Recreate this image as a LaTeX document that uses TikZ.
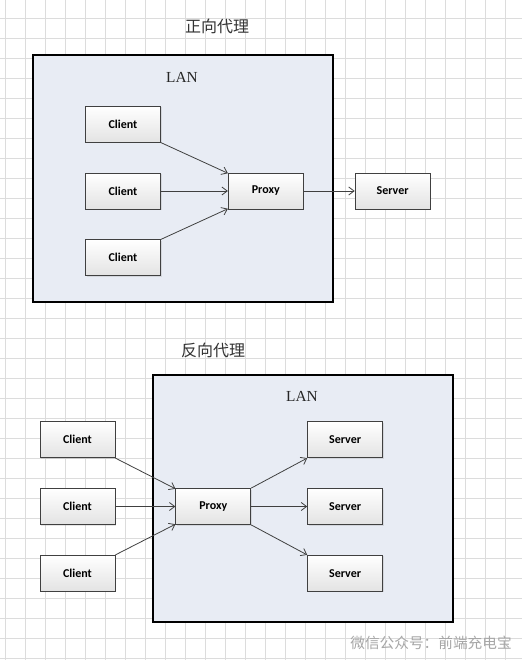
\documentclass[tikz,border=0pt]{standalone}
\usepackage{fontspec}
\setmainfont{Liberation Serif}
\newfontfamily\boxfont{Carlito}
\newfontfamily\cjkfont{Noto Sans CJK SC}
\usetikzlibrary{arrows.meta, positioning, shadows}

\definecolor{lanfill}{HTML}{E8ECF4}
\definecolor{gridgray}{HTML}{DCDCDC}
\definecolor{edgegray}{HTML}{404040}

\begin{document}
\begin{tikzpicture}[
  x=0.75pt, y=-0.75pt,
  node distance=22.5pt and 50pt,
  gridline/.style={draw=gridgray, line width=0.55pt},
  lanbox/.style={draw=black, fill=lanfill, line width=0.95pt},
  pcbox/.style={rectangle, draw=edgegray, line width=0.6pt,
                top color=white, bottom color=black!11,
                minimum width=56.25pt, minimum height=27pt, inner sep=0pt,
                font=\boxfont\bfseries\fontsize{9}{10}\selectfont,
                drop shadow={shadow xshift=0.8pt, shadow yshift=-0.8pt, opacity=0.2}},
  title/.style={font=\cjkfont\fontsize{12}{14}\selectfont, text=black!80},
  lanlabel/.style={font=\fontsize{11.5}{13}\selectfont, text=black!85},
  arrow/.style={-{Straight Barb[length=4pt, width=6pt]}, draw=edgegray, line width=0.6pt}
]
\useasboundingbox[fill=white] (0,0) rectangle (522,660);
\foreach \gx in {5,25,...,505} \draw[gridline] (\gx,0) -- (\gx,660);
\foreach \gy in {18,38,...,658} \draw[gridline] (0,\gy) -- (522,\gy);

% forward proxy
\node[title] (ftitle) at (217,26) {正向代理};
\draw[lanbox] (33,55) rectangle (333,302);
\node[lanlabel] (flan) at (182,77) {LAN};
\node[pcbox] (fcli2) at (123,191) {Client};
\node[pcbox, above=of fcli2] (fcli1) {Client};
\node[pcbox, below=of fcli2] (fcli3) {Client};
\node[pcbox, right=50.25pt of fcli2] (fproxy) {Proxy};
\node[pcbox, right=38.25pt of fproxy] (fserver) {Server};

\draw[arrow] (fcli1.south east) -- ([yshift=-0.5pt]fproxy.north west);
\draw[arrow] (fcli2.east) -- (fproxy.west);
\draw[arrow] (fcli3.north east) -- ([yshift=0.5pt]fproxy.south west);
\draw[arrow] (fproxy.east) -- (fserver.west);

% reverse proxy
\node[title] (rtitle) at (213,350) {反向代理};
\draw[lanbox] (153,375) rectangle (453,622);
\node[lanlabel] (rlan) at (302,396) {LAN};
\node[pcbox] (rcli2) at (77.5,506.5) {Client};
\node[pcbox, above=of rcli2] (rcli1) {Client};
\node[pcbox, below=of rcli2] (rcli3) {Client};
\node[pcbox, right=45pt of rcli2] (rproxy) {Proxy};
\node[pcbox, right=42pt of rproxy] (rserver2) {Server};
\node[pcbox, above=of rserver2] (rserver1) {Server};
\node[pcbox, below=of rserver2] (rserver3) {Server};

\draw[arrow] (rcli1.south east) -- ([yshift=-0.5pt]rproxy.north west);
\draw[arrow] (rcli2.east) -- (rproxy.west);
\draw[arrow] (rcli3.north east) -- ([yshift=0.5pt]rproxy.south west);
\draw[arrow] (rproxy.north east) -- (rserver1.south west);
\draw[arrow] (rproxy.east) -- (rserver2.west);
\draw[arrow] (rproxy.south east) -- (rserver3.north west);

\node[font=\cjkfont\fontsize{11}{13}\selectfont, text=black!35] (mark) at (431,643) {微信公众号：前端充电宝};
\end{tikzpicture}
\end{document}
